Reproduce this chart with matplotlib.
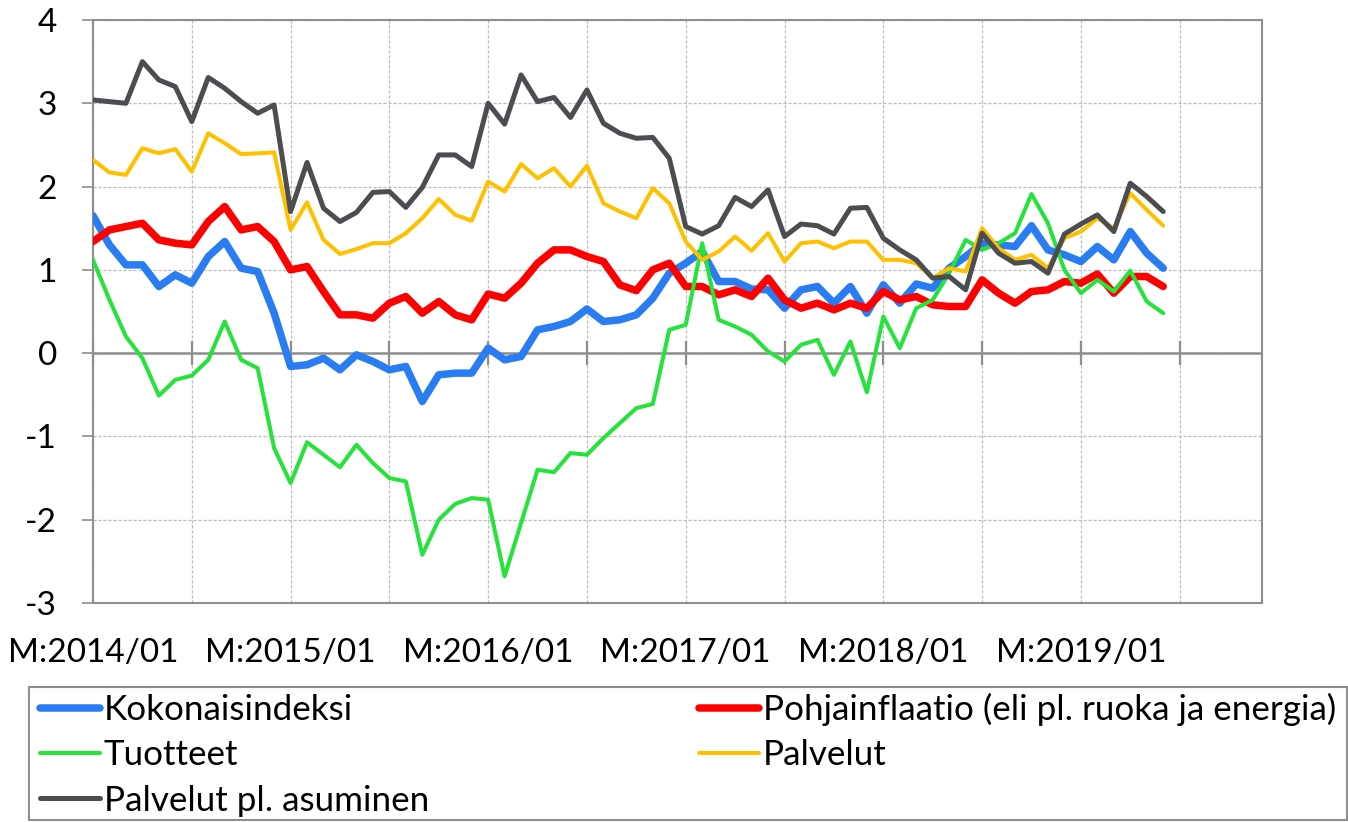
import numpy as np
import matplotlib.pyplot as plt
from matplotlib.patches import Rectangle

# Monthly year-on-year change, %, 2014/01 - 2019/06
kokonaisindeksi = [1.65, 1.30, 1.06, 1.06, 0.80, 0.94, 0.84, 1.16, 1.34, 1.02, 0.98, 0.48,
                   -0.16, -0.14, -0.06, -0.20, -0.02, -0.10, -0.20, -0.16, -0.58, -0.26, -0.24, -0.24,
                   0.06, -0.08, -0.04, 0.28, 0.32, 0.38, 0.53, 0.38, 0.40, 0.46, 0.66, 0.96,
                   1.08, 1.22, 0.86, 0.86, 0.77, 0.76, 0.54, 0.76, 0.80, 0.60, 0.80, 0.48,
                   0.82, 0.60, 0.83, 0.78, 1.02, 1.16, 1.32, 1.30, 1.28, 1.53, 1.24, 1.18,
                   1.10, 1.28, 1.12, 1.46, 1.20, 1.02]
pohjainflaatio = [1.34, 1.48, 1.52, 1.56, 1.36, 1.32, 1.30, 1.58, 1.76, 1.48, 1.52, 1.34,
                  1.00, 1.04, 0.74, 0.46, 0.46, 0.42, 0.60, 0.68, 0.48, 0.62, 0.46, 0.40,
                  0.71, 0.66, 0.84, 1.08, 1.24, 1.24, 1.16, 1.10, 0.82, 0.75, 1.00, 1.08,
                  0.80, 0.80, 0.70, 0.76, 0.68, 0.90, 0.64, 0.54, 0.60, 0.52, 0.60, 0.54,
                  0.74, 0.64, 0.68, 0.58, 0.56, 0.56, 0.88, 0.72, 0.60, 0.74, 0.76, 0.86,
                  0.84, 0.95, 0.72, 0.92, 0.92, 0.80]
tuotteet = [1.12, 0.64, 0.20, -0.06, -0.51, -0.32, -0.27, -0.08, 0.38, -0.08, -0.18, -1.14,
            -1.56, -1.07, -1.22, -1.37, -1.10, -1.32, -1.50, -1.54, -2.42, -2.00, -1.81, -1.74,
            -1.76, -2.68, -2.04, -1.40, -1.43, -1.20, -1.22, -1.02, -0.84, -0.66, -0.61, 0.28,
            0.34, 1.32, 0.40, 0.32, 0.22, 0.02, -0.10, 0.10, 0.16, -0.26, 0.14, -0.47,
            0.44, 0.06, 0.54, 0.64, 0.96, 1.36, 1.24, 1.32, 1.44, 1.91, 1.56, 1.00,
            0.72, 0.88, 0.74, 0.99, 0.62, 0.48]
palvelut = [2.32, 2.17, 2.14, 2.46, 2.40, 2.45, 2.18, 2.64, 2.52, 2.39, 2.40, 2.41,
            1.48, 1.81, 1.36, 1.19, 1.25, 1.32, 1.32, 1.44, 1.62, 1.85, 1.66, 1.59,
            2.06, 1.94, 2.27, 2.10, 2.22, 2.00, 2.25, 1.80, 1.70, 1.62, 1.98, 1.80,
            1.34, 1.12, 1.22, 1.40, 1.23, 1.44, 1.10, 1.32, 1.34, 1.26, 1.34, 1.34,
            1.12, 1.12, 1.08, 0.90, 1.02, 0.98, 1.50, 1.26, 1.12, 1.18, 1.02, 1.38,
            1.46, 1.62, 1.50, 1.92, 1.72, 1.53]
palvelut_pl_asuminen = [3.04, 3.02, 3.00, 3.50, 3.28, 3.20, 2.78, 3.31, 3.18, 3.02, 2.88, 2.98,
                        1.70, 2.29, 1.74, 1.58, 1.69, 1.93, 1.94, 1.75, 1.99, 2.38, 2.38, 2.24,
                        3.00, 2.75, 3.34, 3.02, 3.07, 2.83, 3.16, 2.76, 2.64, 2.58, 2.59, 2.34,
                        1.52, 1.43, 1.53, 1.87, 1.76, 1.96, 1.40, 1.55, 1.53, 1.43, 1.74, 1.75,
                        1.38, 1.24, 1.12, 0.90, 0.92, 0.76, 1.44, 1.20, 1.08, 1.10, 0.96, 1.43,
                        1.55, 1.66, 1.46, 2.04, 1.88, 1.70]

tick_labels = ["M:2014/01", "M:2015/01", "M:2016/01", "M:2017/01", "M:2018/01", "M:2019/01"]

series = [
    ("Kokonaisindeksi", kokonaisindeksi, "#2A7CF2", 5.4),
    ("Pohjainflaatio (eli pl. ruoka ja energia)", pohjainflaatio, "#FF0000", 5.4),
    ("Tuotteet", tuotteet, "#26E33C", 2.9),
    ("Palvelut", palvelut, "#FFC000", 2.9),
    ("Palvelut pl. asuminen", palvelut_pl_asuminen, "#4B4D51", 3.6),
]

plt.rcParams["font.family"] = ["Lato", "DejaVu Sans"]
plt.rcParams["axes.unicode_minus"] = False
FS = 24
AXIS_GRAY = "#8E8E8E"
W, H = 1348, 822

fig = plt.figure(figsize=(W / 100, H / 100), dpi=100)
ax = fig.add_axes([93 / W, 219 / H, 1169 / W, 583 / H])

months = np.arange(len(kokonaisindeksi))
handles = {}
for name, vals, color, lw in series:
    (ln,) = ax.plot(months, vals, color=color, lw=lw, solid_joinstyle="round",
                    solid_capstyle="round", label=name, zorder=3)
    handles[name] = ln

ax.set_xlim(0, 71)
ax.set_ylim(-3, 4)

# y axis
ax.set_yticks(range(-3, 5))
ax.tick_params(axis="y", direction="out", length=8, width=1.2, color=AXIS_GRAY,
               labelsize=FS, pad=18)
ax.yaxis.grid(True, color="#BDBDBD", lw=0.9, ls=(0, (2.5, 1.5)), zorder=0)

# x axis: labels every year, gridlines every half year
ax.set_xticks(np.arange(0, 61, 12))
ax.set_xticklabels(tick_labels)
ax.set_xticks(np.arange(6, 67, 6), minor=True)
ax.tick_params(axis="x", which="both", length=0, labelsize=FS, pad=25)
ax.xaxis.grid(True, which="both", color="#BDBDBD", lw=0.9, ls=(0, (2.5, 1.5)), zorder=0)
ax.set_axisbelow(True)

for sp in ax.spines.values():
    sp.set_color(AXIS_GRAY)
    sp.set_linewidth(1.5)

# zero line with crossing tick marks
half_years = np.arange(0, 67, 6)
ax.axhline(0, color=AXIS_GRAY, lw=1.8, zorder=2)
ax.plot(half_years, np.zeros_like(half_years), ls="none", marker="|", ms=17,
        mew=1.6, color=AXIS_GRAY, zorder=2, clip_on=False)

# legend box drawn separately so the entries can sit with their own margins
fig.patches.append(Rectangle((29 / W, 2 / H), 1318 / W, 133 / H, transform=fig.transFigure,
                             facecolor="white", edgecolor=AXIS_GRAY, lw=1.5, zorder=0))
order = ["Kokonaisindeksi", "Tuotteet", "Palvelut pl. asuminen",
         "Pohjainflaatio (eli pl. ruoka ja energia)", "Palvelut"]
fig.legend([handles[n] for n in order], order, ncol=2, mode="expand",
           loc="upper left", bbox_to_anchor=(40 / W, 0, 1296 / W, 129 / H),
           fontsize=25.2, frameon=False, handlelength=1.7, handletextpad=0.12,
           labelspacing=0.38, borderpad=0, borderaxespad=0)

fig.savefig("out.png", dpi=100)
